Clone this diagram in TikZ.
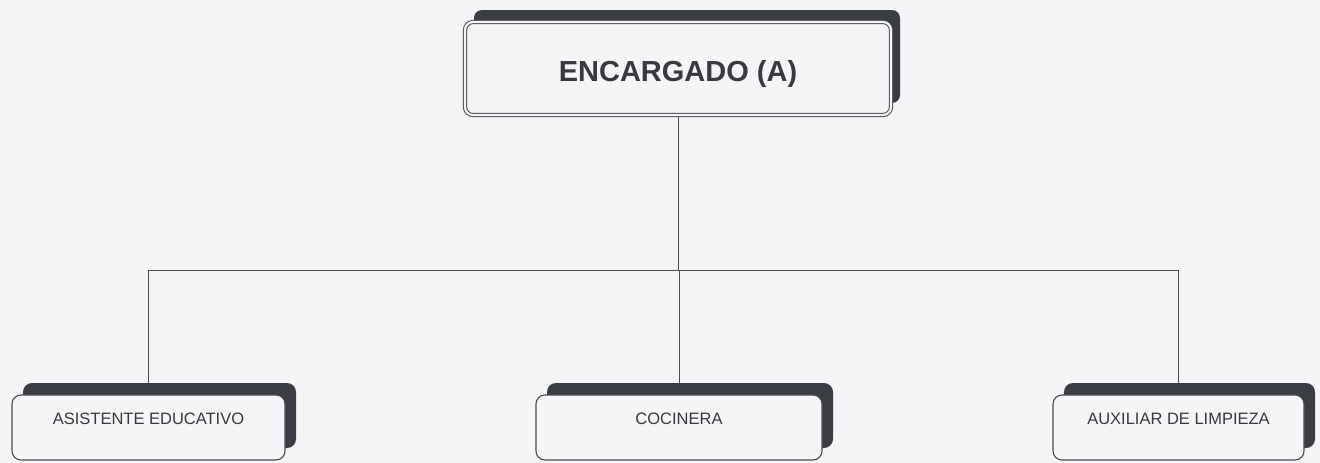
\documentclass[tikz,border=0pt]{standalone}
\usepackage{fontspec}
\setmainfont{Liberation Sans}
\usetikzlibrary{shadows,backgrounds}
\definecolor{bgc}{RGB}{245,245,248}
\definecolor{shadowc}{RGB}{58,62,68}
\definecolor{linec}{RGB}{75,75,80}
\definecolor{textc}{RGB}{58,58,62}
\tikzset{
  topbox/.style={rectangle, rounded corners=8pt, draw=linec, line width=1pt,
    double=bgc, double distance=2.2pt, fill=bgc, inner sep=0pt,
    minimum width=426pt, minimum height=93pt, text=textc,
    font=\fontsize{29}{30}\selectfont\bfseries, text height=26pt, text depth=0pt,
    drop shadow={shadow xshift=9pt, shadow yshift=12pt, opacity=1, fill=shadowc}},
  rolebox/.style={rectangle, rounded corners=9pt, draw=linec, line width=1.1pt,
    fill=bgc, inner sep=0pt, minimum height=65pt, text=textc,
    font=\fontsize{16.5}{18}\selectfont, text height=12pt, text depth=19pt,
    drop shadow={shadow xshift=11pt, shadow yshift=12pt, opacity=1, fill=shadowc}},
  connector/.style={draw=linec, line width=1pt}
}
\begin{document}
\begin{tikzpicture}[x=1pt,y=-1pt]
\useasboundingbox (0,0) rectangle (1320,463);
\node[topbox] (top) at (678,68.5) {ENCARGADO (A)};
\node[rolebox, minimum width=273pt] (b1) at (148.5,427.5) {ASISTENTE EDUCATIVO};
\node[rolebox, minimum width=286pt] (b2) at (679,427.5) {COCINERA};
\node[rolebox, minimum width=251pt] (b3) at (1178.5,427.5) {AUXILIAR DE LIMPIEZA};
\coordinate (bus) at (678,270);
\begin{pgfonlayer}{background}
\fill[bgc] (0,0) rectangle (1320,463);
\draw[connector] (top.south) -- (bus);
\draw[connector] (b1.north |- bus) -- (b3.north |- bus);
\draw[connector] (b1.north |- bus) -- (b1.north);
\draw[connector] (b2.north |- bus) -- (b2.north);
\draw[connector] (b3.north |- bus) -- (b3.north);
\end{pgfonlayer}
\end{tikzpicture}
\end{document}
